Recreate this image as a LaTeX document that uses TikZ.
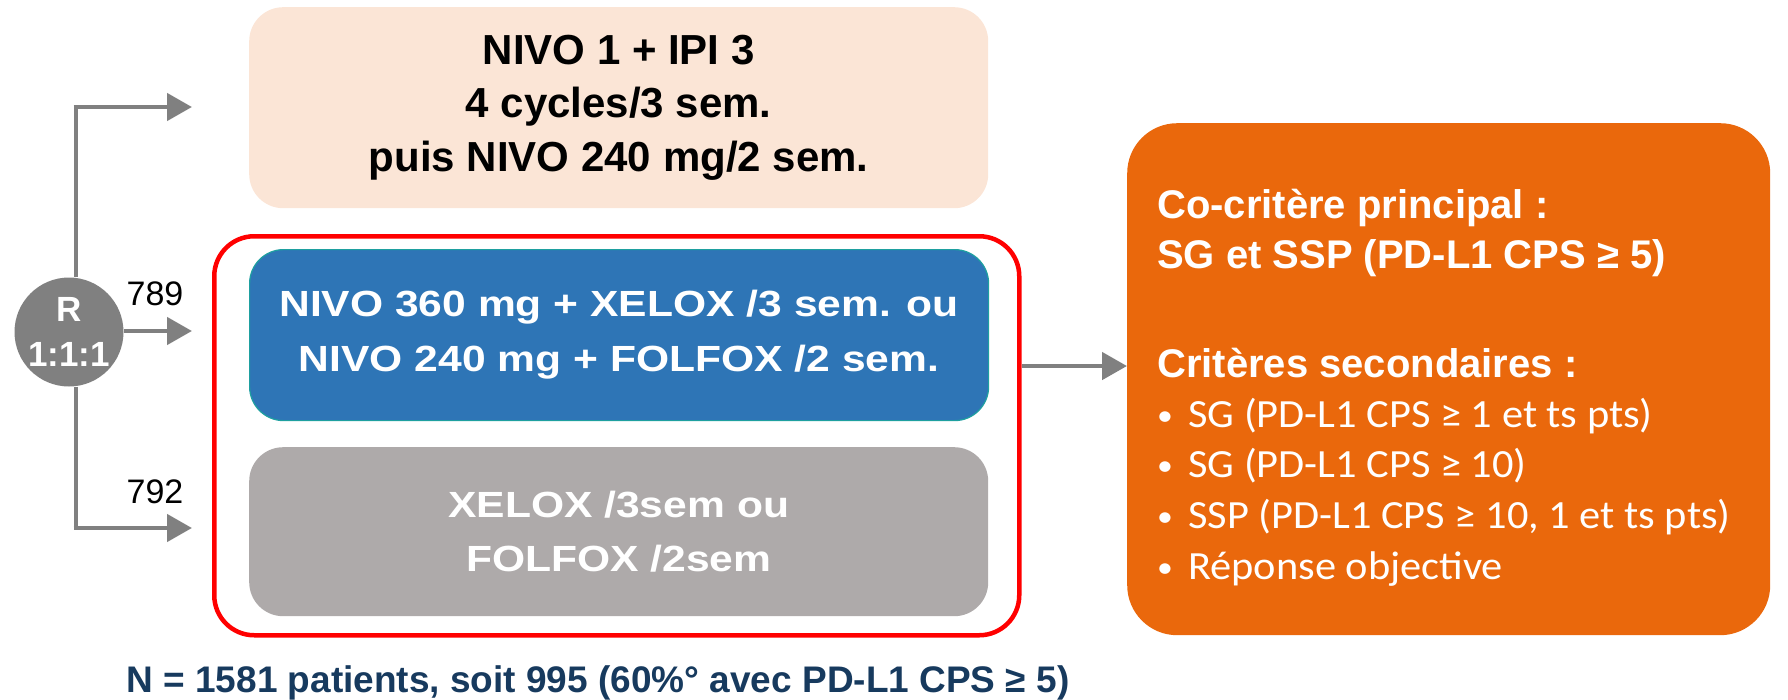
\documentclass[tikz,border=0pt]{standalone}
\usepackage{fontspec}
\setmainfont{Liberation Sans}
\newfontfamily\wide[FakeStretch=1.17]{Liberation Sans}
\newfontfamily\listfont[FakeStretch=1.06]{Carlito}
\usetikzlibrary{arrows.meta}

\definecolor{peach}{RGB}{251,229,214}
\definecolor{armblue}{RGB}{46,117,182}
\definecolor{armedge}{RGB}{30,160,160}
\definecolor{armgray}{RGB}{174,170,170}
\definecolor{endpt}{RGB}{234,104,12}
\definecolor{linkgray}{RGB}{128,128,128}
\definecolor{navy}{RGB}{23,58,94}

\tikzset{
  armbox/.style={rectangle, rounded corners=34pt, inner sep=0pt, align=center,
    minimum width=739pt, anchor=north west},
  link/.style={draw=linkgray, line width=4.7pt, -{Triangle[length=25pt,width=27pt]}},
  plainline/.style={draw=linkgray, line width=4.7pt},
  count/.style={anchor=base, inner sep=0pt, font=\fontsize{34}{40}\selectfont},
  headline/.style={anchor=base west, inner sep=0pt, text=white,
    font=\bfseries\fontsize{40}{50}\selectfont},
  bulletline/.style={anchor=base west, inner sep=0pt, text=white,
    font=\listfont\fontsize{40}{50}\selectfont},
}
\newcommand{\itemmark}{\makebox[31pt][l]{\fontsize{30}{30}\selectfont\raisebox{2pt}{•}}}

\begin{document}
\begin{tikzpicture}[x=1pt,y=-1pt]
\useasboundingbox (0,0) rectangle (1788,699);

% treatment arms
\node[armbox, fill=peach, minimum height=201pt,
  font=\bfseries\fontsize{42}{53.5}\selectfont] (ipi) at (249,7)
  {NIVO 1 + IPI 3\\4 cycles/3 sem.\\puis NIVO 240 mg/2 sem.};
\node[draw=red, line width=4.5pt, rounded corners=40pt, minimum width=805pt,
  minimum height=399pt, anchor=north west, inner sep=0pt] (frame) at (212,234) {};
\node[armbox, fill=armblue, draw=armedge, line width=1.2pt, text=white,
  minimum height=171pt, font=\wide\bfseries\fontsize{36.4}{55}\selectfont] (chemo) at (249,249)
  {NIVO 360 mg + XELOX /3 sem. ou\\NIVO 240 mg + FOLFOX /2 sem.};
\node[armbox, fill=armgray, text=white, minimum height=169pt,
  font=\wide\bfseries\fontsize{36.4}{54}\selectfont] (ctrl) at (249,447)
  {XELOX /3sem ou\\FOLFOX /2sem};

% randomisation
\node[circle, fill=linkgray, minimum size=109pt, inner sep=0pt, text=white,
  align=center, font=\bfseries\fontsize{35}{45}\selectfont] (rand) at (69,332)
  {R\\1:1:1};
\coordinate (top) at (76,107);
\coordinate (bot) at (76,528);
\coordinate (topend) at (192,107);
\coordinate (midend) at (192,331);
\coordinate (botend) at (192,528);
\draw[plainline] (rand.north -| top) -- (top);
\draw[plainline] (rand.south -| bot) -- (bot);
\draw[link] ([xshift=-2.3pt]top) -- (topend);
\draw[link] (rand.east |- midend) -- (midend);
\draw[link] ([xshift=-2.3pt]bot) -- (botend);
\node[count] (n1) at (155,305) {789};
\node[count] (n2) at (155,503) {792};

% endpoints
\node[rectangle, rounded corners=50pt, fill=endpt, minimum width=643pt,
  minimum height=512pt, anchor=north west, inner sep=0pt] (ends) at (1127,123) {};
\draw[link] (frame.east |- 0,366) -- (ends.west |- 0,366);

\node[headline] (prim1) at (1157,218) {Co-critère principal :};
\node[headline] (prim2) at (1157,268) {SG et SSP (PD-L1 CPS ≥ 5)};
\node[headline] (sec) at (1157,377) {Critères secondaires :};
\node[bulletline] (b1) at (1157,427) {\itemmark SG (PD-L1 CPS ≥ 1 et ts pts)};
\node[bulletline] (b2) at (1157,477.7) {\itemmark SG (PD-L1 CPS ≥ 10)};
\node[bulletline] (b3) at (1157,528.4) {\itemmark SSP (PD-L1 CPS ≥ 10, 1 et ts pts)};
\node[bulletline] (b4) at (1157,579) {\itemmark Réponse objective};

% population
\node[anchor=base, inner sep=0pt, text=navy,
  font=\bfseries\fontsize{37}{40}\selectfont] (pop) at (598,692)
  {N = 1581 patients, soit 995 (60\%° avec PD-L1 CPS ≥ 5)};
\end{tikzpicture}
\end{document}
